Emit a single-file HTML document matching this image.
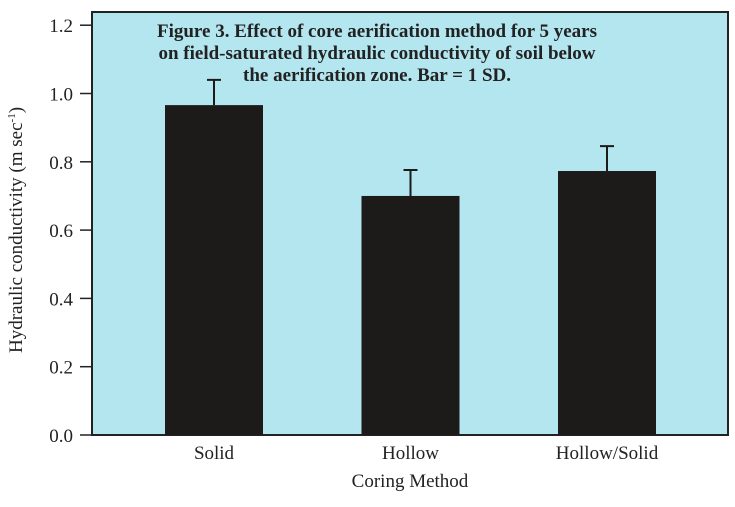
<!DOCTYPE html>
<html><head><meta charset="utf-8"><style>
body{margin:0;background:#fff;width:735px;height:502px;overflow:hidden}
svg text{font-family:"Liberation Serif",serif;fill:#222}
</style></head><body>
<svg width="735" height="502">
<script>
const categories=["Solid","Hollow","Hollow/Solid"];
const values=[0.966,0.70,0.773];
const errors=[0.074,0.076,0.073];
const yTicks=[0,0.2,0.4,0.6,0.8,1.0,1.2];
const yTickLabels=["0.0","0.2","0.4","0.6","0.8","1.0","1.2"];
</script>
<rect x="92" y="12" width="636" height="423" fill="#b3e6ef" stroke="#222" stroke-width="2"/>
<g id="bars"></g><g id="yaxis"></g><g id="xaxis"></g>
<text x="377" y="37" text-anchor="middle" font-weight="bold" font-size="19">Figure 3. Effect of core aerification method for 5 years</text>
<text x="377" y="59" text-anchor="middle" font-weight="bold" font-size="19">on field-saturated hydraulic conductivity of soil below</text>
<text x="377" y="81" text-anchor="middle" font-weight="bold" font-size="19">the aerification zone. Bar = 1 SD.</text>
<text x="410" y="487" text-anchor="middle" font-size="19">Coring Method</text>
<text transform="translate(22,230) rotate(-90)" text-anchor="middle" font-size="19">Hydraulic conductivity (m sec<tspan font-size="11" dy="-7">-1</tspan><tspan dy="7">)</tspan></text>
<script>
const NS="http://www.w3.org/2000/svg";
const y0=435,pxPer=341.5/1.0;
function yS(v){return y0-v*pxPer;}
function xC(i){return 214+i*196.5;}
const bw=98;
const bars=document.getElementById('bars');
categories.forEach((c,i)=>{
  const r=document.createElementNS(NS,'rect');
  
  
  r.setAttribute('x',xC(i)-bw/2);r.setAttribute('y',yS(values[i]));
  r.setAttribute('width',bw);r.setAttribute('height',y0-yS(values[i]));
  r.setAttribute('fill','#1d1a1a');bars.appendChild(r);
  const e=document.createElementNS(NS,'path');
  
  
  const top=yS(values[i]+errors[i]);
  e.setAttribute('d',`M${xC(i)} ${yS(values[i])}V${top}M${xC(i)-7} ${top}H${xC(i)+7}`);
  e.setAttribute('stroke','#1d1a1a');e.setAttribute('stroke-width','2');e.setAttribute('fill','none');
  bars.appendChild(e);
  const t=document.createElementNS(NS,'text');
  
  
  t.setAttribute('x',xC(i));t.setAttribute('y',459);t.setAttribute('text-anchor','middle');t.setAttribute('font-size','19');
  t.textContent=c;document.getElementById('xaxis').appendChild(t);
});
const ya=document.getElementById('yaxis');
yTicks.forEach((v,i)=>{
  const l=document.createElementNS(NS,'line');
  
  
  l.setAttribute('x1',80);l.setAttribute('x2',92);l.setAttribute('y1',yS(v));l.setAttribute('y2',yS(v));
  l.setAttribute('stroke','#222');l.setAttribute('stroke-width','1.5');ya.appendChild(l);
  const t=document.createElementNS(NS,'text');
  
  
  t.setAttribute('x',73);t.setAttribute('y',yS(v)+7);t.setAttribute('text-anchor','end');t.setAttribute('font-size','19');
  t.textContent=yTickLabels[i];ya.appendChild(t);
});
</script>
</svg>
</body></html>
